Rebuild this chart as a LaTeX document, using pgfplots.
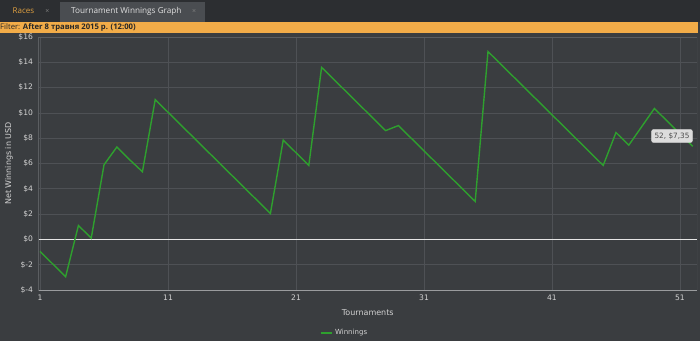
\documentclass[border=0pt]{standalone}
\usepackage{pgfplots}
\pgfplotsset{compat=1.18}
\usepackage{fontspec}
\setmainfont{DejaVu Sans}
\newfontfamily\uifont{Open Sans}
\definecolor{bg}{HTML}{3A3D40}
\definecolor{tabbar}{HTML}{2C2E31}
\definecolor{activetab}{HTML}{4A4D51}
\definecolor{filterbar}{HTML}{F2AC48}
\definecolor{racesorange}{HTML}{E0A040}
\definecolor{gridc}{HTML}{4E5155}
\definecolor{axisc}{HTML}{9A9C9E}
\definecolor{faintc}{HTML}{5A5D60}
\definecolor{tickc}{HTML}{D2D2D2}
\definecolor{linegreen}{RGB}{46,160,46}
\definecolor{tipfill}{HTML}{DCDCDC}
\definecolor{tiptext}{HTML}{4A4A4A}
\pgfplotstableread{
x y
1 -0.95
2 -1.95
3 -2.95
4 1.1
5 0.1
6 5.9
7 7.3
8 6.3
9 5.35
10 11.05
11 10.05
12 9.05
13 8.05
14 7.05
15 6.05
16 5.05
17 4.05
18 3.05
19 2.05
20 7.85
21 6.85
22 5.85
23 13.6
24 12.6
25 11.6
26 10.6
27 9.6
28 8.6
29 9.0
30 8.0
31 7.0
32 6.0
33 5.0
34 4.0
35 3.0
36 14.85
37 13.85
38 12.85
39 11.85
40 10.85
41 9.85
42 8.85
43 7.85
44 6.85
45 5.85
46 8.45
47 7.45
48 8.9
49 10.35
50 9.35
51 8.35
52 7.35
}\winnings
\begin{document}
\begin{tikzpicture}[x=1pt,y=1pt]
% axis origin (south west) is at (0,0); image pixel (38.5,290)
\useasboundingbox (-38.5,-51) rectangle (661.5,290);
\fill[bg] (-38.5,-51) rectangle (661.5,290);
% tab bar (image y 0..22)
\fill[tabbar] (-38.5,268) rectangle (661.5,290);
\fill[activetab] (21.5,268) rectangle (166.5,288);
\node[font=\uifont\fontsize{8}{9}\selectfont, text=racesorange, anchor=west, inner sep=0pt] at (-26,279) {Races};
\node[font=\uifont\fontsize{7}{9}\selectfont, text=gray, anchor=center, inner sep=0pt] at (9,279) {×};
\node[font=\uifont\fontsize{8.2}{9}\selectfont, text=white!88!black, anchor=west, inner sep=0pt] at (32.5,279) {Tournament Winnings Graph};
\node[font=\uifont\fontsize{7}{9}\selectfont, text=gray, anchor=center, inner sep=0pt] at (155.5,279) {×};
% filter bar (image y 22..32.5)
\fill[filterbar] (-38.5,257.5) rectangle (659.5,268);
\node[font=\uifont\fontsize{7.7}{8}\selectfont, text=black!85, anchor=west, inner sep=0pt] at (-38.5,262.8) {Filter: \textbf{After 8 травня 2015 р. (12:00)}};
\begin{axis}[
  anchor=south west,
  scale only axis, width=658.5pt, height=253pt,
  xmin=0.88, xmax=52.33, ymin=-4, ymax=16,
  xtick={1,11,21,31,41,51},
  ytick={-4,-2,0,2,4,6,8,10,12,14,16},
  yticklabels={\$-4,\$-2,\$0,\$2,\$4,\$6,\$8,\$10,\$12,\$14,\$16},
  major tick length=0pt,
  grid=major,
  grid style={gridc, line width=0.7pt},
  axis line style={draw=none},
  ticklabel style={font=\fontsize{7.6}{8}\selectfont, text=tickc},
  /pgf/number format/assume math mode=true,
  yticklabel style={xshift=-2pt},
  xticklabel style={yshift=-1pt},
  xlabel={Tournaments},
  ylabel={Net Winnings in USD},
  label style={font=\fontsize{8}{9}\selectfont, text=tickc},
  xlabel style={at={(axis description cs:0.5,-0.09)}, anchor=center},
  ylabel style={at={(axis description cs:-0.045,0.5)}, anchor=center},
  legend style={at={(axis description cs:0.465,-0.17)}, anchor=center, draw=none, fill=none, font=\fontsize{7}{8}\selectfont, text=tickc, inner sep=0pt},
  legend image code/.code={\draw[linegreen, line width=1.8pt] (0pt,0pt) -- (11pt,0pt);},
]
\addplot[white!90!black, line width=1.7pt, forget plot] coordinates {(0.88,0) (52.33,0)};
\addplot[linegreen, line width=1.4pt] table[x=x,y=y] {\winnings};
\addlegendentry{Winnings}
\draw[faintc, line width=0.7pt] (rel axis cs:1,0) -- (rel axis cs:1,1) -- (rel axis cs:0,1);
\draw[axisc, line width=1pt] (rel axis cs:0,1) -- (rel axis cs:0,0) -- (rel axis cs:1,0);
\end{axis}
% tooltip (image centre 672,136)
\node[fill=tipfill, draw=white!70!gray, rounded corners=2pt, font=\fontsize{7.3}{8}\selectfont, text=tiptext, inner xsep=3pt, inner ysep=3.2pt] at (633.5,154) {52, \$7,35};
\end{tikzpicture}
\end{document}
